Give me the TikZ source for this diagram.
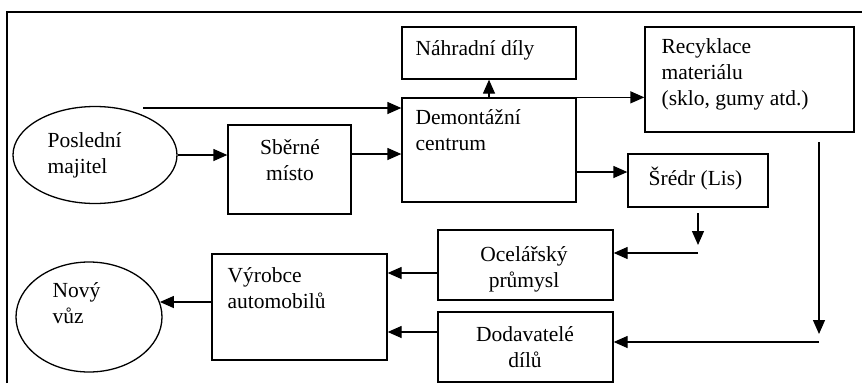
\documentclass[tikz,border=0pt]{standalone}
\usepackage{fontspec}
\setmainfont{Liberation Serif}
\usetikzlibrary{arrows.meta,shapes.geometric}
\begin{document}
\begin{tikzpicture}[x=1pt,y=-1pt,
  line width=1.3pt,
  box/.style={draw, rectangle, inner sep=0pt},
  oval/.style={draw, ellipse, inner sep=0pt},
  txt/.style={inner sep=0pt, font=\fontsize{21.5}{26}\selectfont},
  arr/.style={-{Triangle[length=14pt,width=12pt]}}]
\useasboundingbox (0,0) rectangle (862,383);
% frame
\coordinate (fa) at (7,383);
\coordinate (fb) at (7,12);
\coordinate (fc) at (862,12);
\draw (fa) -- (fb) -- (fc);
% boxes
\node[box, minimum width=174pt, minimum height=52pt] (nahr) at (489,53) {};
\node[box, minimum width=209pt, minimum height=105pt] (recy) at (749.5,79.5) {};
\node[box, minimum width=174pt, minimum height=104pt] (demo) at (489,150) {};
\node[box, minimum width=123pt, minimum height=89pt] (sber) at (289.5,169.5) {};
\node[oval, minimum width=164pt, minimum height=97pt] (posl) at (95,155) {};
\node[box, minimum width=140pt, minimum height=53pt] (sredr) at (698,180.5) {};
\node[box, minimum width=175pt, minimum height=70pt] (ocel) at (525.5,265) {};
\node[box, minimum width=175pt, minimum height=70pt] (dod) at (525.5,347) {};
\node[box, minimum width=175pt, minimum height=106pt] (vyr) at (299.5,307) {};
\node[oval, minimum width=146pt, minimum height=110pt] (novy) at (89,317) {};
% texts (anchored at the baseline of the last line)
\node[txt, anchor=base west] (tnahr) at (415,55) {Náhradní díly};
\node[txt, anchor=base west, align=left] (trecy) at (661,105) {Recyklace\\materiálu\\(sklo, gumy atd.)};
\node[txt, anchor=base west, align=left] (tdemo) at (415,150) {Demontážní\\centrum};
\node[txt, anchor=base, align=center] (tsber) at (290,180) {Sběrné\\místo};
\node[txt, anchor=base west, align=left] (tposl) at (47,173) {Poslední\\majitel};
\node[txt, anchor=base west] (tsredr) at (648,185) {Šrédr (Lis)};
\node[txt, anchor=base, align=center] (tocel) at (524,287) {Ocelářský\\průmysl};
\node[txt, anchor=base, align=center] (tdod) at (525,367) {Dodavatelé\\dílů};
\node[txt, anchor=base west, align=left] (tvyr) at (227,308) {Výrobce\\automobilů};
\node[txt, anchor=base west, align=left] (tnovy) at (52,323) {Nový\\vůz};
% connectors
\coordinate (a1) at (143,108);
\draw[arr] (a1) -- (a1 -| demo.west);
\draw[arr] (posl.east) -- (posl.east -| sber.west);
\coordinate (a2) at (351,154);
\draw[arr] (a2) -- (a2 -| demo.west);
\draw[arr] (demo.north) -- (nahr.south);
\draw[arr] (demo.north east) -- (demo.north east -| recy.west);
\coordinate (a3) at (576,172);
\draw[arr] (a3) -- (a3 -| sredr.west);
\coordinate (b1) at (698,213);
\coordinate (b2) at (698,245);
\draw[arr] (b1) -- (b2);
\coordinate (b3) at (698,253);
\draw[arr] (b3) -- (b3 -| ocel.east);
\coordinate (c1) at (819,142);
\coordinate (c2) at (819,334);
\draw[arr] (c1) -- (c2);
\coordinate (c3) at (819,342);
\draw[arr] (c3) -- (c3 -| dod.east);
\coordinate (d1) at (438,273);
\draw[arr] (d1) -- (d1 -| vyr.east);
\coordinate (d2) at (438,332);
\draw[arr] (d2) -- (d2 -| vyr.east);
\coordinate (e1) at (212,302);
\draw[arr] (e1) -- (e1 -| novy.12);
\end{tikzpicture}
\end{document}
